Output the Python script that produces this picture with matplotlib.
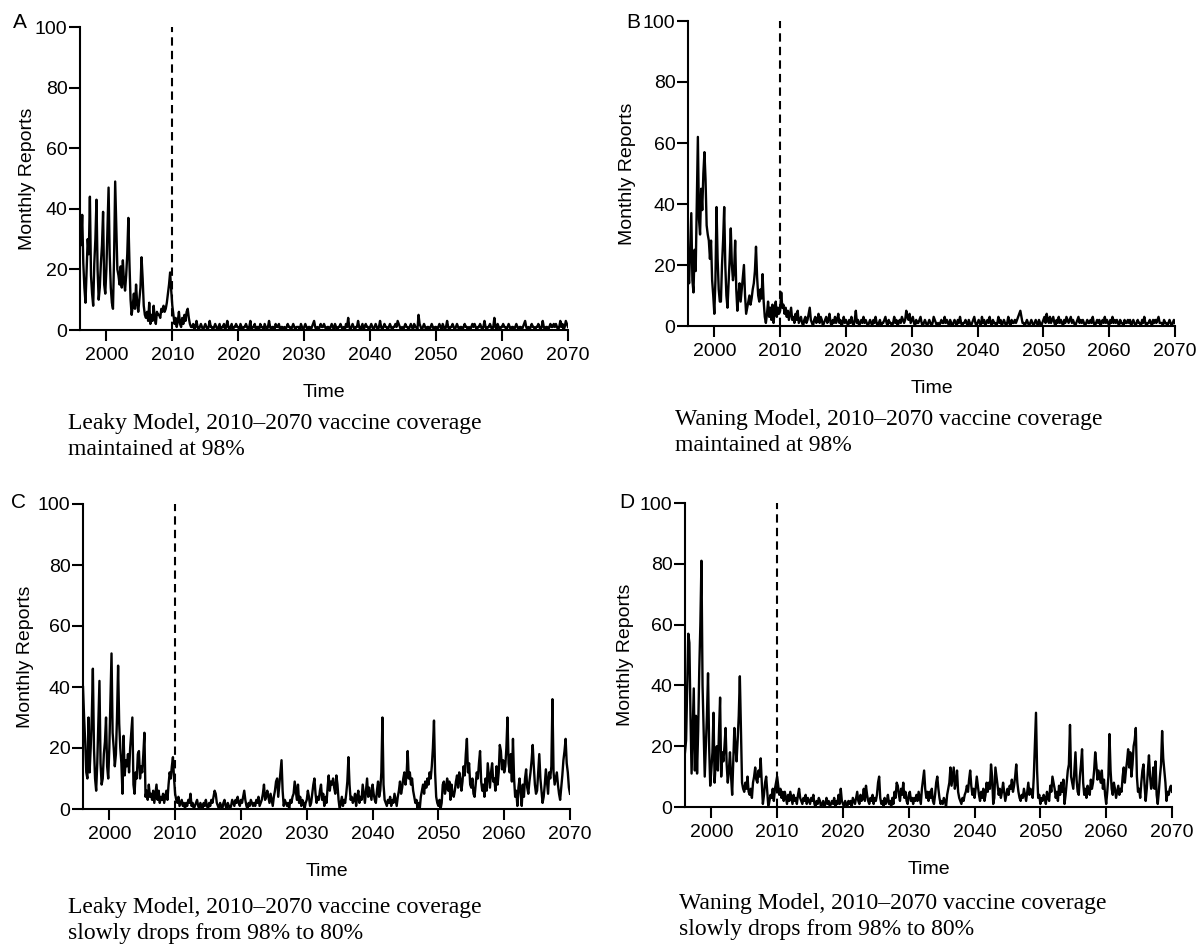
import numpy as np
import matplotlib
matplotlib.use("Agg")
import matplotlib.pyplot as plt

plt.rcParams['font.family'] = ['Liberation Sans', 'DejaVu Sans']

# Monthly reports, one value every two months (6 per year) from 1996.0
# --- A: leaky model, coverage kept at 98%
a_early = [35, 28, 38, 22, 14, 9,
           20, 30, 25, 44, 18, 12,
           8, 22, 30, 43, 20, 10,
           14, 22, 28, 39, 15, 12,
           20, 33, 47, 25, 14, 9,
           7, 24, 49, 35, 20, 18,
           15, 21, 14, 23, 16, 13,
           18, 25, 37, 22, 10, 5,
           8, 12, 7, 15, 9, 6,
           10, 14, 24, 17, 8, 5,
           4, 6, 3, 9, 2, 5,
           3, 8, 4, 2, 6, 5,
           5, 4, 7, 6, 8, 6,
           7, 9, 12, 15, 19, 13]
a_mid = [8, 5, 2, 4, 1, 3,
         6, 2, 1, 4, 2, 5,
         3, 6, 7, 4, 2, 1,
         1, 2, 0, 1, 3, 1,
         0, 1, 2, 1, 0, 1,
         2, 1, 0, 1, 3, 1,
         1, 0, 1, 2, 1, 0,
         1, 2, 0, 1, 1, 2,
         0, 1, 3, 1, 0, 1,
         2, 0, 1, 1, 2, 1,
         1, 0, 2, 1, 0, 1,
         1, 2, 1, 0, 1, 3,
         0, 1, 1, 2, 0, 1,
         1, 0, 2, 1, 1, 0,
         2, 1, 0, 1, 3, 1,
         0, 1, 1, 0, 2, 1,
         1, 2, 0, 1, 1, 0,
         1, 0, 1, 2, 1, 1,
         0, 1, 2, 1, 0, 1,
         1, 1, 0, 2, 1, 0,
         1, 2, 1, 0, 1, 1,
         0, 1, 2, 3, 1, 0,
         1, 0, 1, 2, 1, 1,
         2, 1, 0, 1, 1, 0,
         1, 2, 1, 0, 2, 1,
         0, 1, 1, 2, 1, 0,
         1, 0, 2, 1, 4, 1,
         0, 1, 2, 1, 0, 1,
         1, 3, 1, 0, 1, 2,
         0, 1, 2, 1, 1, 0]
a_late = [1, 2, 1, 0, 1, 2,
          1, 0, 1, 3, 1, 0,
          1, 2, 1, 1, 0, 1,
          2, 1, 0, 1, 1, 2,
          1, 3, 2, 1, 0, 1,
          0, 1, 2, 1, 1, 0,
          1, 2, 1, 0, 2, 1,
          1, 0, 5, 2, 1, 0,
          1, 2, 1, 0, 1, 1,
          0, 1, 2, 1, 0, 1,
          1, 0, 1, 2, 1, 0,
          2, 1, 0, 1, 3, 1,
          0, 1, 1, 2, 1, 0,
          1, 2, 1, 0, 1, 1,
          0, 1, 2, 1, 1, 0,
          1, 0, 1, 2, 1, 2,
          1, 0, 1, 1, 2, 1,
          0, 1, 3, 1, 0, 1,
          1, 2, 1, 0, 1, 4,
          1, 0, 2, 1, 0, 1,
          1, 2, 1, 1, 0, 1,
          2, 1, 0, 1, 1, 0,
          1, 2, 1, 0, 1, 1,
          0, 1, 2, 3, 1, 0,
          1, 0, 1, 2, 1, 1,
          0, 1, 1, 2, 1, 0,
          1, 3, 1, 0, 1, 1,
          0, 1, 2, 1, 1, 2,
          1, 2, 1, 0, 1, 3,
          1, 2, 0, 1, 3, 2,
          1]

# --- B: waning model, coverage kept at 98%
b_early = [20, 14, 25, 37, 15, 11,
           25, 18, 40, 62, 35, 30,
           45, 38, 50, 57, 48, 33,
           30, 28, 22, 28, 15, 10,
           4, 15, 39, 22, 12, 8,
           8, 20, 28, 39, 20, 10,
           6, 14, 22, 32, 20, 15,
           18, 28, 12, 5, 10, 14,
           8, 12, 16, 20, 10, 4,
           6, 8, 10, 7, 9, 12,
           14, 18, 26, 16, 10, 8,
           12, 9, 17, 8, 3, 1,
           4, 8, 3, 6, 2, 7,
           1, 5, 8, 3, 6, 4]
b_mid = [5, 11, 6, 7, 4, 6,
         3, 5, 2, 4, 6, 2,
         3, 1, 4, 2, 5, 1,
         2, 3, 1, 0, 2, 3,
         1, 2, 4, 6, 2, 1,
         0, 2, 3, 1, 2, 4,
         1, 3, 2, 0, 1, 2,
         3, 1, 2, 4, 1, 0,
         2, 1, 3, 1, 2, 4,
         1, 2, 0, 1, 3, 1,
         2, 1, 0, 2, 1, 3,
         1, 0, 2, 5, 1, 2,
         0, 1, 2, 1, 3, 1,
         2, 1, 0, 1, 2, 1,
         0, 2, 1, 3, 1, 0,
         1, 2, 0, 1, 1, 2,
         3, 1, 0, 2, 1, 1,
         0, 1, 3, 1, 2, 0,
         1, 2, 1, 3, 2, 1,
         2, 5, 3, 2, 4, 1,
         2, 3, 1, 0, 2, 1,
         1, 2, 3, 1, 0, 1,
         2, 1, 0, 1, 2, 1,
         0, 1, 3, 2, 1, 0,
         1, 0, 1, 2, 1, 1,
         3, 1, 2, 1, 0, 2,
         1, 0, 1, 2, 1, 0,
         2, 1, 3, 1, 0, 1,
         1, 2, 1, 0, 2, 1,
         0, 1, 2, 3, 1, 0]
b_late = [1, 2, 1, 0, 3, 1,
          2, 0, 1, 2, 1, 3,
          1, 0, 2, 1, 1, 0,
          1, 3, 1, 2, 0, 1,
          2, 1, 0, 1, 3, 1,
          0, 2, 1, 1, 2, 1,
          2, 3, 4, 5, 3, 1,
          1, 0, 1, 2, 1, 0,
          1, 2, 1, 0, 1, 2,
          1, 0, 2, 1, 0, 1,
          2, 3, 1, 4, 2, 1,
          3, 1, 2, 3, 1, 0,
          2, 1, 3, 1, 2, 1,
          0, 2, 1, 3, 2, 1,
          2, 3, 1, 2, 1, 0,
          1, 2, 3, 1, 2, 1,
          2, 1, 0, 1, 2, 1,
          1, 2, 1, 3, 1, 0,
          1, 2, 1, 2, 0, 1,
          2, 1, 3, 1, 2, 1,
          0, 2, 1, 3, 1, 2,
          1, 2, 1, 0, 2, 1,
          1, 0, 2, 1, 1, 2,
          1, 2, 0, 1, 2, 1,
          0, 1, 2, 1, 1, 0,
          2, 1, 3, 1, 0, 1,
          1, 2, 1, 0, 2, 1,
          2, 1, 2, 3, 1, 1,
          1, 0, 2, 1, 1, 0,
          1, 2, 1, 0, 1, 2,
          1]

# --- C: leaky model, coverage slowly drops from 98% to 80%
c_early = [40, 30, 22, 12, 10, 30,
           12, 20, 30, 46, 20, 10,
           6, 15, 28, 42, 15, 8,
           10, 18, 22, 30, 14, 10,
           20, 35, 51, 25, 20, 14,
           18, 30, 47, 28, 20, 15,
           5, 24, 11, 16, 14, 18,
           12, 20, 25, 30, 8, 5,
           12, 10, 18, 19, 10, 14,
           12, 18, 25, 4, 6, 3,
           8, 4, 5, 3, 6, 2,
           5, 8, 3, 6, 2, 4,
           3, 5, 2, 4, 6, 3,
           8, 12, 10, 14, 17, 10]
c_mid = [5, 3, 2, 4, 1, 2,
         3, 1, 2, 0, 2, 1,
         3, 2, 5, 1, 2, 0,
         1, 2, 3, 1, 0, 2,
         1, 0, 2, 1, 3, 1,
         0, 2, 1, 3, 2, 4,
         6, 5, 2, 1, 0, 2,
         1, 0, 2, 3, 1, 0,
         2, 1, 0, 1, 3, 2,
         1, 3, 2, 4, 2, 1,
         3, 2, 4, 6, 3, 1,
         0, 2, 1, 3, 2, 1,
         2, 1, 3, 2, 4, 1,
         2, 3, 5, 8, 3, 4,
         6, 4, 2, 5, 3, 1,
         4, 6, 9, 10, 4, 8,
         12, 16, 6, 1, 3, 2,
         1, 2, 0, 3, 2, 4,
         5, 9, 6, 3, 8, 2,
         4, 1, 3, 2, 0, 2,
         3, 6, 4, 1, 2, 5,
         8, 10, 5, 2, 4, 3,
         6, 8, 3, 5, 1, 4,
         2, 7, 11, 6, 9, 8,
         10, 7, 5, 11, 8, 3,
         0, 2, 4, 1, 3, 2,
         5, 9, 17, 8, 3, 4,
         2, 3, 5, 1, 4, 6,
         2, 4, 3, 8, 5, 2,
         6, 10, 4, 7, 5, 3]
c_late = [8, 5, 3, 2, 6, 9,
          4, 6, 12, 30, 8, 3,
          2, 1, 3, 2, 4, 1,
          3, 2, 5, 3, 1, 4,
          6, 9, 5, 7, 10, 12,
          8, 11, 19, 10, 12, 8,
          10, 6, 4, 2, 3, 0,
          2, 0, 4, 6, 8, 5,
          9, 7, 10, 8, 12, 10,
          14, 20, 29, 12, 4, 2,
          1, 3, 0, 2, 8, 9,
          5, 7, 10, 6, 9, 3,
          8, 5, 4, 6, 9, 11,
          7, 12, 10, 6, 9, 14,
          11, 18, 23, 12, 15, 8,
          7, 10, 5, 4, 8, 12,
          10, 15, 19, 9, 6, 8,
          4, 10, 6, 15, 11, 7,
          12, 15, 9, 10, 6, 14,
          8, 12, 21, 19, 13, 16,
          12, 14, 20, 30, 15, 12,
          18, 9, 23, 10, 4, 6,
          1, 7, 10, 5, 1, 8,
          4, 10, 13, 7, 5, 9,
          12, 16, 21, 14, 8, 5,
          6, 12, 18, 10, 6, 2,
          4, 8, 13, 9, 5, 12,
          10, 14, 36, 12, 8, 10,
          12, 8, 5, 3, 7, 11,
          16, 19, 23, 15, 12, 7,
          5]

# --- D: waning model, coverage slowly drops from 98% to 80%
d_early = [18, 22, 40, 57, 54, 30,
           11, 25, 39, 12, 30, 11,
           25, 45, 60, 81, 40, 25,
           10, 20, 30, 44, 20, 7,
           12, 18, 31, 8, 15, 20,
           12, 25, 36, 10, 18, 15,
           20, 26, 14, 8, 12, 18,
           10, 4, 15, 26, 20, 15,
           22, 30, 43, 25, 8, 6,
           5, 8, 6, 10, 5, 4,
           6, 3, 8, 10, 13, 9,
           8, 12, 10, 16, 8, 1,
           4, 8, 10, 5, 0, 2,
           4, 3, 6, 2, 6, 8]
d_mid = [10, 7, 4, 6, 3, 5,
         2, 5, 3, 1, 4, 2,
         5, 3, 1, 4, 2, 3,
         1, 4, 6, 3, 2, 1,
         3, 2, 4, 1, 3, 2,
         1, 3, 2, 4, 1, 0,
         2, 1, 3, 2, 0, 1,
         2, 0, 1, 3, 1, 2,
         0, 1, 2, 1, 3, 0,
         2, 1, 4, 1, 6, 2,
         1, 0, 2, 1, 0, 2,
         1, 2, 0, 3, 2, 1,
         3, 5, 2, 1, 4, 2,
         3, 6, 2, 7, 4, 2,
         1, 3, 2, 4, 1, 3,
         2, 4, 8, 10, 3, 1,
         2, 0, 3, 1, 2, 4,
         1, 2, 0, 3, 1, 5,
         3, 8, 7, 4, 2, 6,
         4, 8, 3, 5, 2, 1,
         4, 5, 2, 3, 1, 3,
         2, 4, 2, 5, 3, 1,
         6, 9, 12, 6, 3, 5,
         2, 5, 3, 6, 2, 1,
         4, 8, 10, 6, 3, 1,
         2, 1, 3, 2, 0, 4,
         6, 8, 13, 7, 10, 13,
         6, 8, 12, 5, 3, 2,
         1, 3, 2, 4, 5, 7,
         5, 9, 12, 7, 4, 6]
d_late = [3, 6, 10, 7, 4, 2,
          5, 3, 6, 2, 4, 8,
          5, 8, 6, 14, 10, 1,
          3, 13, 10, 7, 4, 6,
          3, 5, 8, 5, 2, 4,
          6, 4, 7, 6, 9, 5,
          7, 10, 14, 8, 5, 3,
          2, 4, 3, 6, 4, 2,
          5, 8, 4, 6, 5, 3,
          10, 20, 31, 12, 3, 4,
          1, 3, 2, 4, 3, 1,
          5, 3, 2, 7, 5, 10,
          8, 6, 3, 5, 2, 7,
          4, 8, 5, 9, 1, 4,
          8, 12, 14, 27, 10, 8,
          6, 12, 18, 9, 5, 4,
          10, 14, 19, 8, 4, 6,
          3, 7, 5, 4, 9, 6,
          8, 12, 18, 14, 9, 12,
          10, 8, 12, 6, 9, 4,
          1, 5, 10, 24, 12, 6,
          4, 8, 6, 3, 5, 7,
          4, 6, 5, 10, 13, 8,
          12, 15, 19, 13, 18, 10,
          14, 20, 22, 26, 10, 5,
          6, 3, 8, 12, 14, 7,
          2, 6, 12, 17, 10, 6,
          8, 13, 6, 15, 4, 1,
          5, 10, 14, 25, 16, 12,
          8, 2, 5, 4, 6, 7,
          5]

x_ticks = [2000, 2010, 2020, 2030, 2040, 2050, 2060, 2070]
y_ticks = [0, 20, 40, 60, 80, 100]
start_year = 1996
per_year = 6
intervention_year = 2010

letters = ["A", "B", "C", "D"]
captions = [
    ["Leaky Model, 2010\u20132070 vaccine coverage", "maintained at 98%"],
    ["Waning Model, 2010\u20132070 vaccine coverage", "maintained at 98%"],
    ["Leaky Model, 2010\u20132070 vaccine coverage", "slowly drops from 98% to 80%"],
    ["Waning Model, 2010\u20132070 vaccine coverage", "slowly drops from 98% to 80%"],
]
series = [a_early + a_mid + a_late,
          b_early + b_mid + b_late,
          c_early + c_mid + c_late,
          d_early + d_mid + d_late]

W, H = 1200, 944
# pixel boxes: left, x-axis y, width, height
boxes = [(80, 330, 488, 303), (688, 326, 487, 305),
         (83, 809, 487, 305), (685, 807, 487, 304)]
ylab_off = [52, 60, 58, 59]
letter_pos = [(20, 22), (633, 22), (18, 503), (627, 503)]
caption_pos = [(68, 423), (675, 419), (68, 907), (679, 903)]

fig = plt.figure(figsize=(W / 100, H / 100), dpi=100)

for i in range(4):
    left, base, wpx, hpx = boxes[i]
    ax = fig.add_axes([left / W, 1 - base / H, wpx / W, hpx / H])
    vals = np.array(series[i], dtype=float)
    t = start_year + np.arange(len(vals)) / per_year
    ax.plot(t, vals, color="black", lw=1.7)
    ax.vlines(intervention_year, 0, 100, colors="black", linestyles=(0, (4, 2.5)), lw=1.5)

    ax.set_xlim(start_year, 2070)
    ax.set_ylim(0, 100)
    ax.set_xticks(x_ticks)
    ax.set_yticks(y_ticks)
    for s in ["top", "right"]:
        ax.spines[s].set_visible(False)
    for s in ["left", "bottom"]:
        ax.spines[s].set_linewidth(1.5)
    ax.tick_params(axis="both", direction="out", length=8, width=1.5, labelsize=14)
    ax.tick_params(axis="y", pad=1)
    ax.tick_params(axis="x", pad=4)

    ax.set_xlabel("Time", fontsize=14, va="center")
    ax.xaxis.set_label_coords(0.5, -62 / hpx)
    ax.set_ylabel("Monthly Reports", fontsize=14, va="center")
    ax.yaxis.set_label_coords(-ylab_off[i] / wpx, 0.5)

    lx, ly = letter_pos[i]
    fig.text(lx / W, 1 - ly / H, letters[i], fontsize=15, ha="center", va="center")
    cx, cy = caption_pos[i]
    for k, line in enumerate(captions[i]):
        fig.text(cx / W, 1 - (cy + 27 * k) / H, line, fontsize=17,
                 family="Liberation Serif", ha="left", va="center")

fig.savefig("out.png", dpi=100)
plt.close(fig)
